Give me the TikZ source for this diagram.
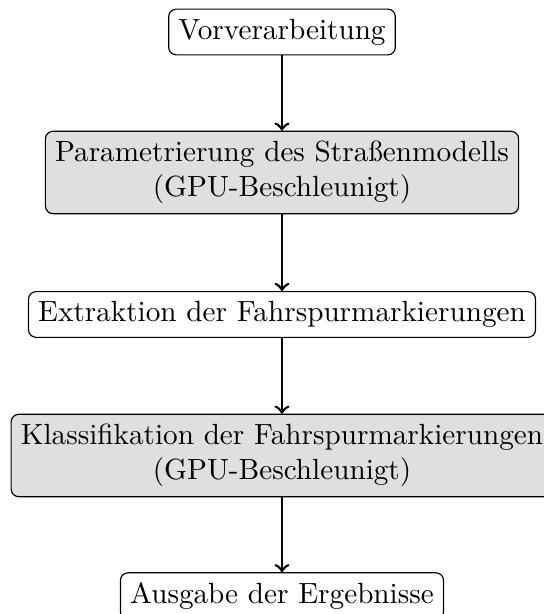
\documentclass[tikz,border=0pt]{standalone}
\begin{document}
\begin{tikzpicture}[x=0.3424pt,y=-0.3424pt,
  stepbox/.style={draw, rounded corners=2.6pt, line width=0.4pt, align=center, inner sep=3.33pt},
  gpubox/.style={stepbox, fill=gray!25},
  flow/.style={->, line width=0.9pt}]
\useasboundingbox (0,0) rectangle (544,614);
\node[stepbox] (a) at (282,32) {Vorverarbeitung};
\node[gpubox] (b) at (282,172.5) {Parametrierung des Straßenmodells\\(GPU-Beschleunigt)};
\node[stepbox] (c) at (282,314.5) {Extraktion der Fahrspurmarkierungen};
\node[gpubox] (d) at (282,455.5) {Klassifikation der Fahrspurmarkierungen\\(GPU-Beschleunigt)};
\node[stepbox] (e) at (282,596) {Ausgabe der Ergebnisse};
\draw[flow] (a) -- (b);
\draw[flow] (b) -- (c);
\draw[flow] (c) -- (d);
\draw[flow] (d) -- (e);
\end{tikzpicture}
\end{document}
